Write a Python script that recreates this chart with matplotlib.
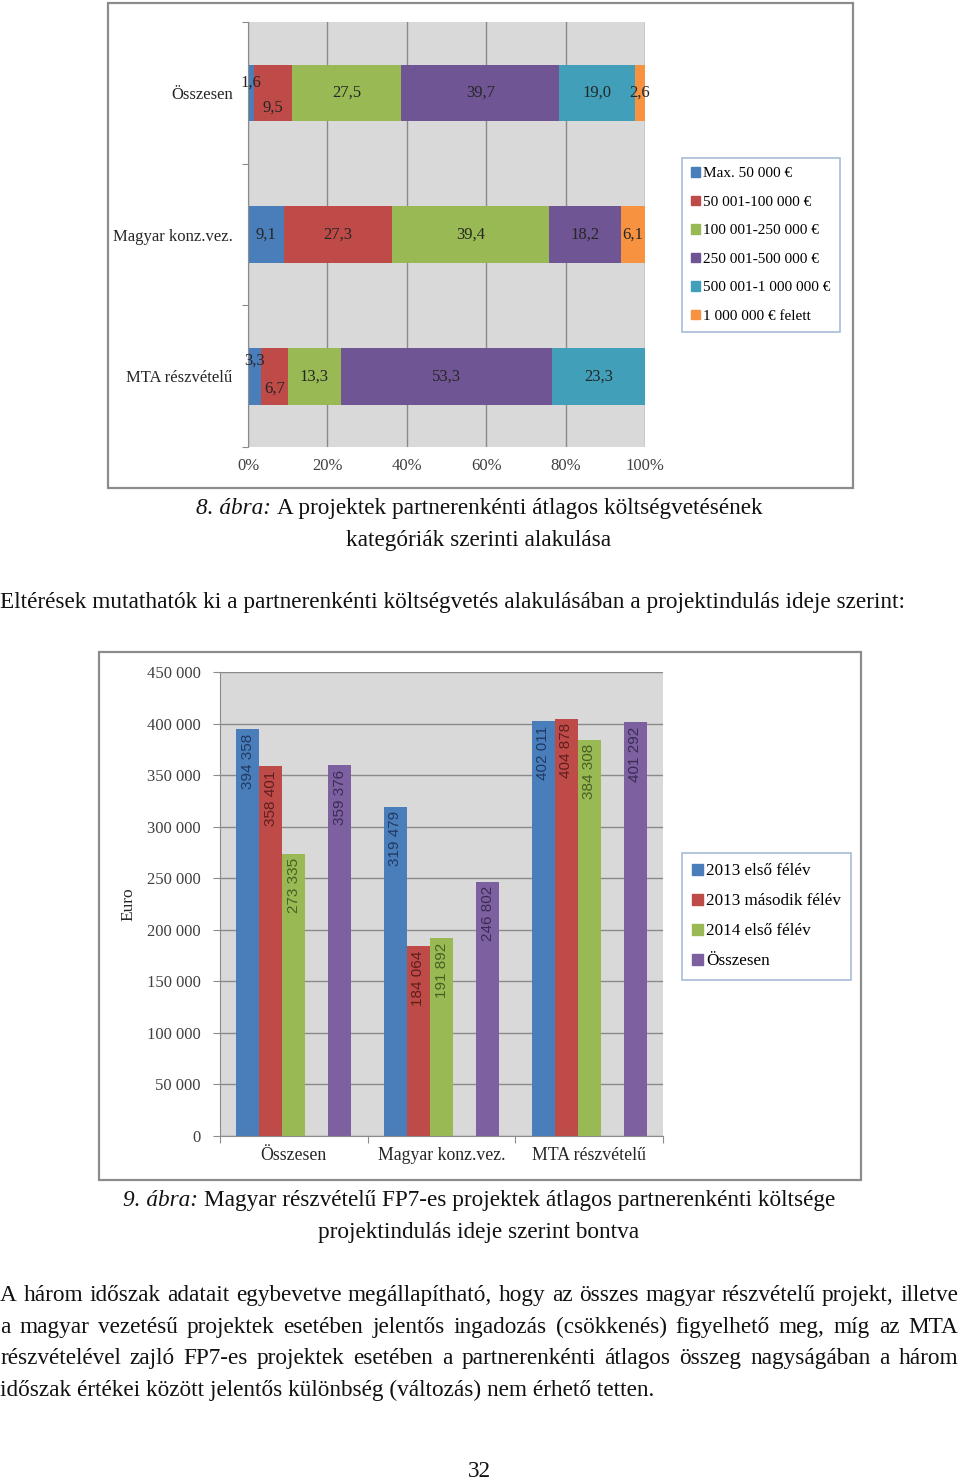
import matplotlib

matplotlib.use("Agg")
import matplotlib.pyplot as plt
import numpy as np
from matplotlib.patches import Patch, Rectangle

W, H = 960, 1481
SERIF = "Liberation Serif"
SANS = "Liberation Sans"

# --- chart 1: budget category shares (%) ---
size_categories = ["Összesen", "Magyar konz.vez.", "MTA részvételű"]
size_series = [
    "Max. 50 000 €",
    "50 001-100 000 €",
    "100 001-250 000 €",
    "250 001-500 000 €",
    "500 001-1 000 000 €",
    "1 000 000 € felett",
]
share_max50k = [1.6, 9.1, 3.3]
share_50k_100k = [9.5, 27.3, 6.7]
share_100k_250k = [27.5, 39.4, 13.3]
share_250k_500k = [39.7, 18.2, 53.3]
share_500k_1m = [19.0, 0.0, 23.3]
share_over_1m = [2.6, 6.1, 0.0]
pct_ticks = [0, 20, 40, 60, 80, 100]

# --- chart 2: average cost per partner (EUR) ---
cost_categories = ["Összesen", "Magyar konz.vez.", "MTA részvételű"]
cost_series = ["2013 első félév", "2013 második félév", "2014 első félév", "Összesen"]
cost_2013_h1 = [394358, 319479, 402011]
cost_2013_h2 = [358401, 184064, 404878]
cost_2014_h1 = [273335, 191892, 384308]
cost_total = [359376, 246802, 401292]
euro_ticks = [0, 50000, 100000, 150000, 200000, 250000, 300000, 350000, 400000, 450000]

# --- page text ---
caption1_label = "8. ábra:"
caption1_lines = ["A projektek partnerenkénti átlagos költségvetésének", "kategóriák szerinti alakulása"]
intro_line = "Eltérések mutathatók ki a partnerenkénti költségvetés alakulásában a projektindulás ideje szerint:"
caption2_label = "9. ábra:"
caption2_lines = ["Magyar részvételű FP7-es projektek átlagos partnerenkénti költsége", "projektindulás ideje szerint bontva"]
para_lines = [
    "A három időszak adatait egybevetve megállapítható, hogy az összes magyar részvételű projekt, illetve",
    "a magyar vezetésű projektek esetében jelentős ingadozás (csökkenés) figyelhető meg, míg az MTA",
    "részvételével zajló FP7-es projektek esetében a partnerenkénti átlagos összeg nagyságában a három",
    "időszak értékei között jelentős különbség (változás) nem érhető tetten.",
]
page_number = "32"

colors1 = ["#4a7ebb", "#be4b48", "#98b954", "#6f5594", "#419fb9", "#f69240"]
colors2 = ["#4a7ebb", "#be4b48", "#98b954", "#7d60a0"]
label_colors2 = ["#1f3a64", "#5e1f1d", "#4a5e22", "#3b2c55"]
txt = "#262626"

fig = plt.figure(figsize=(W / 100, H / 100), dpi=100)
renderer = fig.canvas.get_renderer()


def fx(x):
    return x / W


def fy(y):
    return 1 - y / H


def rect(x0, y0, x1, y1):
    return [x0 / W, 1 - y1 / H, (x1 - x0) / W, (y1 - y0) / H]


def text_width(s, **kw):
    t = fig.text(0, 0, s, **kw)
    w = t.get_window_extent(renderer=renderer).width
    t.remove()
    return w


def frame(x0, y0, x1, y1):
    fig.add_artist(
        Rectangle((fx(x0), fy(y1)), (x1 - x0) / W, (y1 - y0) / H, transform=fig.transFigure,
                  fill=False, edgecolor="#8c8c8c", lw=1.6)
    )


# body font size fitted to the intro line width
body = 10 * 905 / text_width(intro_line, fontsize=10, family=SERIF)
space_w = text_width("a a", fontsize=body, family=SERIF) - text_width("aa", fontsize=body, family=SERIF)


def caption(label, line, xc, y):
    w1 = text_width(label, fontsize=body, family=SERIF, style="italic")
    w2 = text_width(line, fontsize=body, family=SERIF)
    x = xc - (w1 + space_w + w2) / 2
    fig.text(fx(x), fy(y), label, fontsize=body, family=SERIF, style="italic", va="baseline", color="#111111")
    fig.text(fx(x + w1 + space_w), fy(y), line, fontsize=body, family=SERIF, va="baseline", color="#111111")


def justify(line, y, x0, x1):
    words = line.split()
    widths = [text_width(w, fontsize=body, family=SERIF) for w in words]
    gap = (x1 - x0 - sum(widths)) / (len(words) - 1)
    x = x0
    for w, wd in zip(words, widths):
        fig.text(fx(x), fy(y), w, fontsize=body, family=SERIF, va="baseline", color="#111111")
        x += wd + gap


# ================= chart 1 =================
frame(108, 3, 853, 488)
ax1 = fig.add_axes(rect(248, 22, 645, 447))
shares = np.array([share_max50k, share_50k_100k, share_100k_250k, share_250k_500k, share_500k_1m, share_over_1m])
pct = shares / shares.sum(axis=0) * 100
ypos = np.arange(len(size_categories))
nudges = {(0, 0): (0, 7), (1, 0): (0, -11), (0, 2): (0, 11), (1, 2): (0, -9)}
left = np.zeros(len(size_categories))
for i, name in enumerate(size_series):
    ax1.barh(ypos, pct[i], left=left, height=0.4, color=colors1[i], label=name, zorder=2)
    for j in range(len(size_categories)):
        if shares[i, j] > 0:
            ax1.annotate(f"{shares[i, j]:.1f}".replace(".", ","), (left[j] + pct[i, j] / 2, ypos[j]),
                         xytext=nudges.get((i, j), (0, 0)), textcoords="offset points",
                         ha="center", va="center", fontsize=12, family=SERIF, color=txt, zorder=3)
    left += pct[i]
ax1.set_facecolor("#d9d9d9")
ax1.set_xlim(0, 100)
ax1.set_ylim(2.5, -0.5)
ax1.set_xticks(pct_ticks)
ax1.set_xticklabels([f"{t}%" for t in pct_ticks], fontsize=12, family=SERIF, color="#404040")
ax1.tick_params(axis="x", length=0, pad=8)
ax1.xaxis.grid(True, color="#8a8a8a", lw=1)
ax1.set_axisbelow(True)
ax1.set_yticks([-0.5, 0.5, 1.5, 2.5])
ax1.set_yticklabels([])
ax1.tick_params(axis="y", which="major", length=4, color="#8c8c8c")
ax1.set_yticks(ypos, minor=True)
ax1.set_yticklabels(size_categories, minor=True, fontsize=12, family=SERIF, color=txt)
ax1.tick_params(axis="y", which="minor", length=0, pad=11)
for s in ["top", "right", "bottom"]:
    ax1.spines[s].set_visible(False)
ax1.spines["left"].set_color("#8c8c8c")
leg1 = fig.legend(handles=[Patch(color=c, label=n) for c, n in zip(colors1, size_series)],
                  loc="upper left", bbox_to_anchor=(fx(682), fy(158)), borderaxespad=0,
                  prop={"family": SERIF, "size": 11}, handlelength=0.6, handleheight=0.6,
                  handletextpad=0.2, labelspacing=1.0, borderpad=0.6, fancybox=False,
                  edgecolor="#a7bcd6", framealpha=1)
leg1.get_frame().set_linewidth(1.2)

caption(caption1_label, caption1_lines[0], 479, 514)
fig.text(fx(479), fy(546), caption1_lines[1], fontsize=body, family=SERIF, ha="center", va="baseline", color="#111111")
fig.text(fx(0), fy(608), intro_line, fontsize=body, family=SERIF, va="baseline", color="#111111")

# ================= chart 2 =================
frame(99, 652, 861, 1180)
ax2 = fig.add_axes(rect(220, 672, 663, 1136))
costs = [cost_2013_h1, cost_2013_h2, cost_2014_h1, cost_total]
slots = [0, 1, 2, 4]
bw = 0.156
xpos = np.arange(len(cost_categories))
for i, name in enumerate(cost_series):
    xs = xpos + (slots[i] - 2) * bw
    ax2.bar(xs, costs[i], width=bw, color=colors2[i], label=name, zorder=2)
    for x, v in zip(xs, costs[i]):
        ax2.annotate(f"{v:,}".replace(",", " "), (x, v), xytext=(0, -3), textcoords="offset points",
                     rotation=90, ha="center", va="top", fontsize=11, family=SANS,
                     color=label_colors2[i], zorder=3)
ax2.set_facecolor("#d9d9d9")
ax2.set_ylim(0, 450000)
ax2.set_xlim(-0.5, 2.5)
ax2.set_yticks(euro_ticks)
ax2.set_yticklabels([f"{t:,}".replace(",", " ") for t in euro_ticks], fontsize=12, family=SERIF, color="#404040")
ax2.tick_params(axis="y", length=5, color="#8c8c8c", pad=9)
ax2.yaxis.grid(True, color="#8a8a8a", lw=1)
ax2.set_axisbelow(True)
ax2.set_xticks([-0.5, 0.5, 1.5, 2.5])
ax2.set_xticklabels([])
ax2.tick_params(axis="x", which="major", length=5, color="#8c8c8c")
ax2.set_xticks(xpos, minor=True)
ax2.set_xticklabels(cost_categories, minor=True, fontsize=12.8, family=SERIF, color=txt)
ax2.tick_params(axis="x", which="minor", length=0, pad=8)
for s in ["top", "right"]:
    ax2.spines[s].set_visible(False)
ax2.spines["left"].set_color("#8c8c8c")
ax2.spines["bottom"].set_color("#8c8c8c")
ax2.set_ylabel("Euro", fontsize=12.5, family=SERIF, color=txt)
ax2.yaxis.set_label_coords((136 - 220) / 443, 0.5)
leg2 = fig.legend(handles=[Patch(color=c, label=n) for c, n in zip(colors2, cost_series)],
                  loc="upper left", bbox_to_anchor=(fx(682), fy(853)), borderaxespad=0,
                  prop={"family": SERIF, "size": 12.3}, handlelength=0.6, handleheight=0.6,
                  handletextpad=0.2, labelspacing=0.82, borderpad=0.6, fancybox=False,
                  edgecolor="#a7bcd6", framealpha=1)
leg2.get_frame().set_linewidth(1.2)

caption(caption2_label, caption2_lines[0], 479, 1206)
fig.text(fx(479), fy(1238), caption2_lines[1], fontsize=body, family=SERIF, ha="center", va="baseline", color="#111111")

baselines = [1301, 1333, 1364, 1396]
for line, y in zip(para_lines[:-1], baselines):
    justify(line, y, 0, 958)
fig.text(fx(0), fy(baselines[-1]), para_lines[-1], fontsize=body, family=SERIF, va="baseline", color="#111111")
fig.text(fx(479), fy(1477), page_number, fontsize=body, family=SERIF, ha="center", va="baseline", color="#111111")

fig.savefig("out.png", dpi=100, facecolor="white")
